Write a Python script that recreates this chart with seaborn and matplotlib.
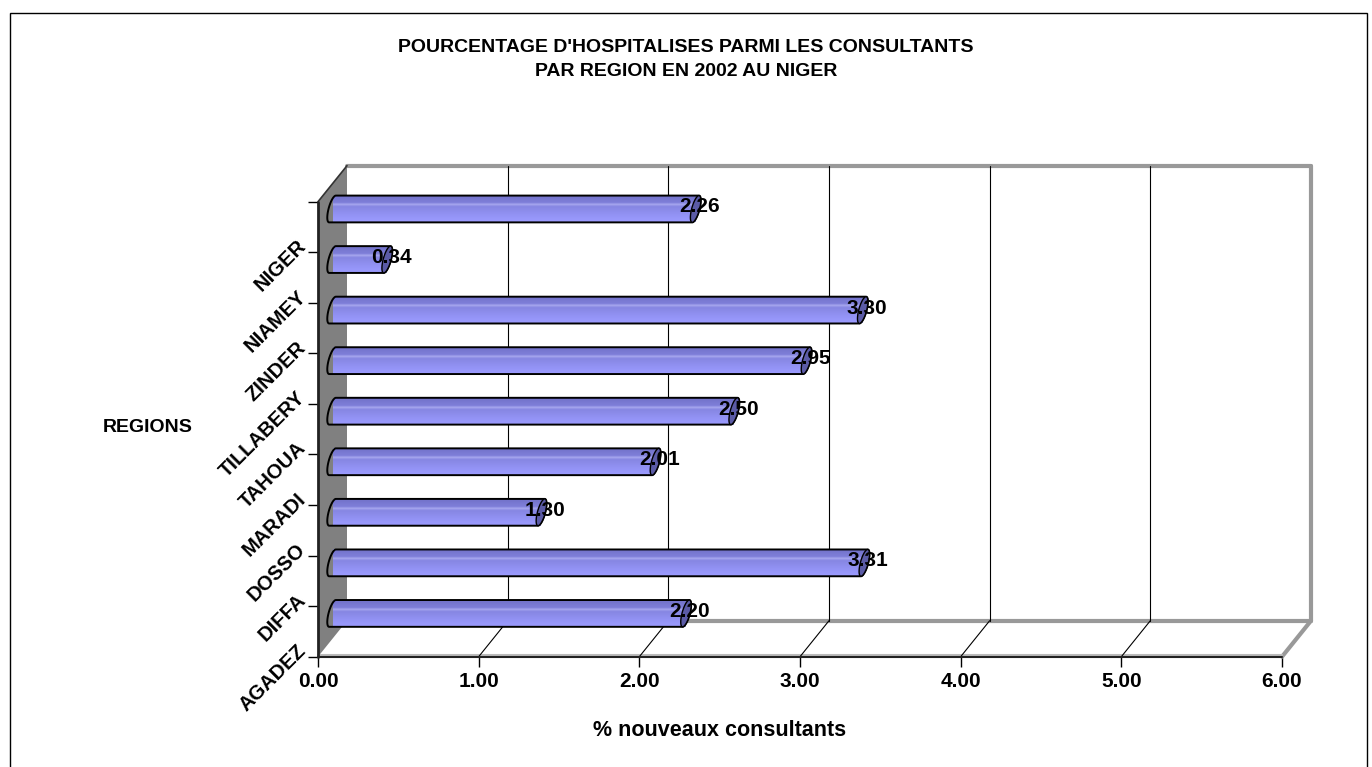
import matplotlib
matplotlib.use("Agg")
import numpy as np
import pandas as pd
import seaborn as sns
import matplotlib.pyplot as plt
from matplotlib.patches import Polygon, Rectangle
from matplotlib.colors import to_rgb
from matplotlib.transforms import ScaledTranslation

# Data: percentage of hospitalised patients among consultants, by region (2002)
regions = ["NIGER", "NIAMEY", "ZINDER", "TILLABERY", "TAHOUA", "MARADI", "DOSSO", "DIFFA", "AGADEZ"]
pct = [2.26, 0.34, 3.30, 2.95, 2.50, 2.01, 1.30, 3.31, 2.20]
x_ticks = [0, 1, 2, 3, 4, 5, 6]
title_lines = ["POURCENTAGE D'HOSPITALISES PARMI LES CONSULTANTS", "PAR REGION EN 2002 AU NIGER"]
x_label = "% nouveaux consultants"
y_label = "REGIONS"

df = pd.DataFrame({"region": regions, "pct": pct})

sns.set_theme(style="white")
plt.rcParams["font.family"] = ["Liberation Sans", "DejaVu Sans"]
plt.rcParams["font.weight"] = "bold"
plt.rcParams["text.color"] = "black"
plt.rcParams["xtick.color"] = "black"
plt.rcParams["ytick.color"] = "black"
plt.rcParams["axes.labelcolor"] = "black"

W, H = 1372, 767
fig = plt.figure(figsize=(W / 100, H / 100), dpi=100)
fig.patch.set_facecolor("white")


def fig_rect(x0, y0, x1, y1):
    return [x0 / W, 1 - y1 / H, (x1 - x0) / W, (y1 - y0) / H]


# front face of the 3-D box (pixels) and depth offset of the back wall
FX0, FY0, FX1, FY1 = 318, 201.7, 1282, 656.7
DEPTH_X, DEPTH_Y = 29, 36

n = len(regions)
ax = fig.add_axes(fig_rect(FX0, FY0, FX1, FY1))
ax.set_xlim(0, 6)
ax.set_ylim(n - 0.5, -0.5)
ax.patch.set_visible(False)
for s in ax.spines.values():
    s.set_visible(False)

px = 6 / (FX1 - FX0)
py = n / (FY1 - FY0)
ox, oy = DEPTH_X * px, -DEPTH_Y * py
top, bot = -0.5, n - 0.5
grey = "#999999"

# left side wall
ax.add_patch(Polygon([(0, bot), (0, top), (ox, top + oy), (ox, bot + oy)],
                     closed=True, fc="#808080", ec="none", clip_on=False, zorder=1))
ax.plot([0, ox], [top, top + oy], color="#333333", lw=1.2, clip_on=False, zorder=2)

# back wall border and floor edges
ax.plot([ox, 6 + ox], [top + oy, top + oy], color=grey, lw=3, clip_on=False, zorder=1)
ax.plot([6 + ox, 6 + ox], [top + oy, bot + oy], color=grey, lw=3, clip_on=False, zorder=1)
ax.plot([ox, 6 + ox], [bot + oy, bot + oy], color=grey, lw=3, clip_on=False, zorder=1)
ax.plot([6, 6 + ox], [bot, bot + oy], color=grey, lw=3, clip_on=False, zorder=1)
ax.plot([0, 6], [bot - 1.5 * py, bot - 1.5 * py], color="#bbbbbb", lw=1.5, clip_on=False, zorder=1)

# gridlines on the back wall and on the floor
for k in x_ticks[1:-1]:
    ax.plot([k + ox, k + ox], [top + oy, bot + oy], color="black", lw=0.8, clip_on=False, zorder=1)
    ax.plot([k, k + ox], [bot, bot + oy], color="black", lw=0.8, clip_on=False, zorder=1)

# front axis lines
ax.plot([0, 0], [top, bot], color="#222222", lw=2, clip_on=False, zorder=2)
ax.plot([0, 6], [bot, bot], color="#222222", lw=1.5, clip_on=False, zorder=2)

ax.set_xticks(x_ticks)
ax.set_xticklabels([f"{v:.2f}" for v in x_ticks], fontsize=15, fontweight="bold")
ax.set_yticks(np.arange(n + 1) - 0.5)
ax.set_yticklabels([""] + regions, fontsize=14.5, fontweight="bold",
                   rotation=45, ha="right", va="center", rotation_mode="anchor")
ax.tick_params(axis="x", bottom=True, direction="out", length=7, width=1, pad=4, colors="black")
ax.tick_params(axis="y", left=True, direction="out", length=7, width=1, pad=4, colors="black")
lift = ScaledTranslation(0, 9 / 100, fig.dpi_scale_trans)
for lab in ax.get_yticklabels():
    lab.set_transform(lab.get_transform() + lift)

# bars sit half-way into the box depth
bx = fig.add_axes(fig_rect(FX0 + DEPTH_X / 2, FY0 - DEPTH_Y / 2, FX1 + DEPTH_X / 2, FY1 - DEPTH_Y / 2))
sns.barplot(data=df, x="pct", y="region", order=regions, orient="h", width=0.53,
            color="#8a8ae8", linewidth=0, ax=bx)
bx.set_xlim(0, 6)
bx.set_ylim(n - 0.5, -0.5)
bx.axis("off")

# vertical shading of the cylinders
stops = [(0.0, "#7272c9"), (0.28, "#7f7fd9"), (0.34, "#a9a9f0"), (0.42, "#8686e2"),
         (0.75, "#9393f5"), (1.0, "#9c9cff")]
rows = np.linspace(0, 1, 60)
grad = np.zeros((60, 1, 3))
for c in range(3):
    grad[:, 0, c] = np.interp(rows, [s[0] for s in stops], [to_rgb(s[1])[c] for s in stops])

cap_rx = 4 * px
shear = 0.25


def cap_points(xc, yc, hh, t):
    vy = hh * np.sin(t)
    vx = cap_rx * np.cos(t) - shear * (vy / py) * px
    return np.column_stack([xc + vx, yc + vy])


for p in list(bx.patches):
    v = p.get_width()
    y0 = p.get_y()
    h = p.get_height()
    yc = y0 + h / 2
    hh = h / 2
    right = cap_points(v, yc, hh, np.linspace(-np.pi / 2, np.pi / 2, 30))
    left = cap_points(0, yc, hh, np.linspace(np.pi / 2, 3 * np.pi / 2, 30))
    outline = Polygon(np.vstack([right, left]), closed=True, fc="none", ec="black",
                      lw=1.4, zorder=4, clip_on=False)
    bx.add_patch(outline)
    x_min = -cap_rx - shear * hh / py * px - 0.01
    x_max = v + cap_rx + shear * hh / py * px + 0.01
    im = bx.imshow(grad, extent=(x_min, x_max, y0 + h, y0), aspect="auto",
                   interpolation="bilinear", zorder=3)
    im.set_clip_path(outline)
    end = cap_points(v, yc, hh, np.linspace(0, 2 * np.pi, 60))
    bx.add_patch(Polygon(end, closed=True, fc="#5b5ba6", ec="black", lw=1,
                         zorder=5, clip_on=False))
    bx.text(v + 4 * px, yc - 2 * py, f"{v:.2f}", ha="center", va="center",
            fontsize=15, fontweight="bold", color="black", zorder=6)

bx.set_xlim(0, 6)
bx.set_ylim(n - 0.5, -0.5)

# titles and axis names
fig.text(686 / W, 1 - 47 / H, title_lines[0], ha="center", va="center", fontsize=14, fontweight="bold")
fig.text(686 / W, 1 - 71 / H, title_lines[1], ha="center", va="center", fontsize=14, fontweight="bold")
fig.text(720 / W, 1 - 731 / H, x_label, ha="center", va="center", fontsize=15.5, fontweight="bold")
fig.text(148 / W, 1 - 428 / H, y_label, ha="center", va="center", fontsize=14, fontweight="bold")

# chart area border
fig.add_artist(Rectangle((9.5 / W, -0.05), 1357 / W, 1.05 - 12.5 / H, fill=False,
                         ec="black", lw=1, transform=fig.transFigure))

fig.savefig("out.png", dpi=100, facecolor="white")
